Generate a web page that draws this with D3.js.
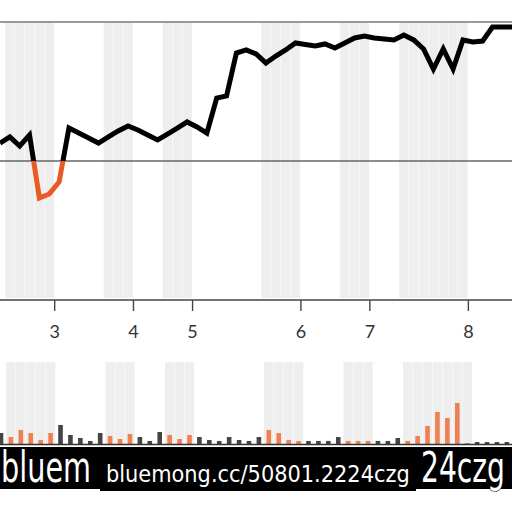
<!DOCTYPE html>
<html>
<head>
<meta charset="utf-8">
<script src="https://cdn.jsdelivr.net/npm/d3@7"></script>
<style>
  html, body { margin: 0; padding: 0; background: #fff; }
  svg { display: block; }
</style>
</head>
<body>
<svg id="chart" width="512" height="512"></svg>
<script>
// ---- data ----
const weeks = d3.range(0, 53);
const lineValues = [12.9, 17.3, 10.8, 18.7, -26.6, -23.7, -15.1, 23.7, 20.1, 16.5,
  12.9, 17.3, 21.6, 25.2, 22.3, 18.7, 15.1, 19.4, 23.7, 28.1,
  24.5, 20.1, 45.3, 46.8, 77.7, 79.9, 77.0, 70.5, 75.5, 79.9,
  84.9, 83.8, 82.7, 84.2, 81.3, 84.9, 88.5, 89.9, 88.5, 87.8,
  87.1, 90.6, 87.1, 80.6, 66.2, 80.6, 66.2, 87.1, 85.6, 86.3,
  96.4, 96.4, 96.4];
const barValues = [13.4, 8.5, 17.1, 13.4, 4.9, 13.4, 23.2, 11.0, 7.3, 3.7,
  13.4, 9.8, 6.1, 12.2, 8.5, 3.7, 14.6, 11.0, 6.1, 11.0,
  8.5, 4.9, 3.7, 8.5, 4.9, 3.7, 8.5, 17.1, 13.4, 4.9,
  3.7, 3.7, 3.7, 3.7, 8.5, 3.7, 3.7, 3.7, 3.7, 3.7,
  7.3, 3.7, 9.8, 22.0, 39.0, 31.7, 50.0, 1.2, 2.4, 2.4,
  2.4, 2.4, 2.4];
const bandStarts = [1, 11, 17, 27, 35, 41];
const bandEnds = [5, 13, 19, 30, 37, 47];
const tickLabels = ["3", "4", "5", "6", "7", "8"];
const watermark = "bluemong.cc/50801.2224czg";
const watermarkLeft = "bluem";
const watermarkRight = "24czg";

// ---- layout ----
const svg = d3.select("#chart");
const xTop = d3.scaleLinear().domain([0, 52]).range([0, 512.2]);
const xBot = d3.scaleLinear().domain([0, 52]).range([1, 516.8]);
const yTop = d3.scaleLinear().domain([-100, 100]).range([300, 22]);
const yBot = d3.scaleLinear().domain([0, 100]).range([444, 362]);

const inBand = i => bandStarts.some((s, k) => i >= s && i <= bandEnds[k]);
const bandWeeks = weeks.filter(inBand);

const BAND = "#eeeeee";
const ORANGE = "#eb5a24";
const BAR_ORANGE = "#ef8052";

// top panel bands (one column per week)
const stepT = xTop(1) - xTop(0);
svg.append("g").selectAll("rect").data(bandWeeks).join("rect")
  .attr("x", d => xTop(d - 0.5) + 0.25)
  .attr("width", stepT - 0.5)
  .attr("y", yTop(100) + 1)
  .attr("height", yTop(-100) - yTop(100) - 3)
  .attr("fill", BAND);

// horizontal reference lines
svg.append("line").attr("x1", 0).attr("x2", 512)
  .attr("y1", yTop(100)).attr("y2", yTop(100))
  .attr("stroke", "#777").attr("stroke-width", 1.4);
svg.append("line").attr("x1", 0).attr("x2", 512)
  .attr("y1", yTop(0)).attr("y2", yTop(0))
  .attr("stroke", "#666").attr("stroke-width", 1.4);

// x axis
const tickVals = bandEnds.map(e => e + 0.5);
const axis = d3.axisBottom(xTop).tickValues(tickVals)
  .tickFormat((d, i) => tickLabels[i]).tickSize(11).tickPadding(14);
const ax = svg.append("g").attr("transform", `translate(0,${yTop(-100)})`).call(axis);
ax.select(".domain").attr("d", "M0,0H512").attr("stroke", "#444").attr("stroke-width", 1.4);
ax.selectAll(".tick line").attr("stroke", "#444").attr("stroke-width", 1.4);
ax.selectAll(".tick text").attr("font-family", "Lato, 'Open Sans', sans-serif")
  .attr("font-size", 18).attr("fill", "#333");

// line split at zero by clip paths
const defs = svg.append("defs");
defs.append("clipPath").attr("id", "above").append("rect")
  .attr("x", -10).attr("y", 0).attr("width", 540).attr("height", yTop(0));
defs.append("clipPath").attr("id", "below").append("rect")
  .attr("x", -10).attr("y", yTop(0)).attr("width", 540).attr("height", 400);
const line = d3.line().x((d, i) => xTop(i)).y(d => yTop(d));
svg.append("path").datum(lineValues).attr("d", line)
  .attr("fill", "none").attr("stroke", "#000").attr("stroke-width", 5)
  .attr("stroke-linejoin", "miter").attr("clip-path", "url(#above)");
svg.append("path").datum(lineValues).attr("d", line)
  .attr("fill", "none").attr("stroke", ORANGE).attr("stroke-width", 5)
  .attr("stroke-linejoin", "miter").attr("clip-path", "url(#below)");

// bottom panel bands
const stepB = xBot(1) - xBot(0);
svg.append("g").selectAll("rect").data(bandWeeks).join("rect")
  .attr("x", d => xBot(d - 0.5) + 0.25)
  .attr("width", stepB - 0.5)
  .attr("y", yBot(100))
  .attr("height", yBot(0) - yBot(100))
  .attr("fill", BAND);

// bars
svg.append("g").selectAll("rect").data(barValues).join("rect")
  .attr("x", (d, i) => xBot(i) - 2.3)
  .attr("width", 4.6)
  .attr("y", d => yBot(d))
  .attr("height", d => yBot(0) - yBot(d))
  .attr("fill", (d, i) => inBand(i) ? BAR_ORANGE : "#444");

svg.append("line").attr("x1", 0).attr("x2", 512)
  .attr("y1", yBot(0) + 0.5).attr("y2", yBot(0) + 0.5)
  .attr("stroke", "#333").attr("stroke-width", 1.4);

// watermark overlay (texts squeezed horizontally to a target width)
const wm = svg.append("g");
function fitText(str, x, y, width, size, stroke) {
  const t = wm.append("text").text(str)
    .attr("x", 0).attr("y", 0)
    .attr("font-family", "'DejaVu Sans', sans-serif").attr("font-size", size)
    .attr("fill", "#fff");
  if (stroke) t.attr("stroke", "#000").attr("stroke-width", 1.2).attr("paint-order", "stroke");
  const w = t.node().getComputedTextLength();
  t.attr("transform", `translate(${x},${y}) scale(${width / w},1)`);
  return t;
}
wm.append("rect").attr("x", 0).attr("y", 447).attr("width", 512).attr("height", 42).attr("fill", "#000");
fitText(watermarkLeft, 1, 482, 90, 42, true);
fitText(watermarkRight, 421, 482, 84, 42, true);
wm.append("rect").attr("x", 100).attr("y", 457).attr("width", 316).attr("height", 34).attr("fill", "#000");
fitText(watermark, 106, 482, 304, 23, false);
</script>
</body>
</html>
